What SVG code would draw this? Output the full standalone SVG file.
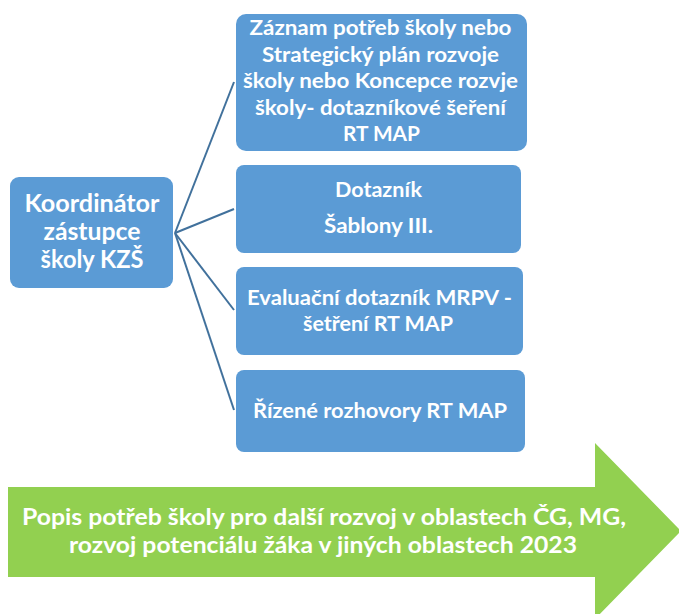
<svg xmlns="http://www.w3.org/2000/svg" width="679" height="614" viewBox="0 0 679 614">
<style>
.box{fill:#5B9BD5;}
.t{fill:#FFFFFF;font-family:Lato,"Liberation Sans",sans-serif;font-weight:bold;text-anchor:middle;}
.s19{font-size:20px;}
.s24{font-size:25px;}
.s22{font-size:23px;}
.con{stroke:#41719C;stroke-width:2;fill:none;}
</style>
<rect width="679" height="614" fill="#FFFFFF"/>
<g id="connectors">
<line class="con" x1="175" y1="233" x2="234" y2="82"/>
<line class="con" x1="175" y1="233" x2="234" y2="209"/>
<line class="con" x1="175" y1="233" x2="234" y2="310"/>
<line class="con" x1="175" y1="233" x2="234" y2="410"/>
</g>
<g id="koordinator">
<rect class="box" x="10" y="177" width="163" height="111" rx="9"/>
<text class="t s24" x="92" y="212" textLength="135" lengthAdjust="spacingAndGlyphs">Koordinátor</text>
<text class="t s24" x="92" y="240" textLength="97" lengthAdjust="spacingAndGlyphs">zástupce</text>
<text class="t s24" x="92" y="268" textLength="103" lengthAdjust="spacingAndGlyphs">školy KZŠ</text>
</g>
<g id="zaznam">
<rect class="box" x="236" y="14" width="291" height="137" rx="10"/>
<text class="t s19" x="380.5" y="35" textLength="262" lengthAdjust="spacingAndGlyphs">Záznam potřeb školy nebo</text>
<text class="t s19" x="380.5" y="61.5" textLength="237" lengthAdjust="spacingAndGlyphs">Strategický plán rozvoje</text>
<text class="t s19" x="380.5" y="88" textLength="275" lengthAdjust="spacingAndGlyphs">školy nebo Koncepce rozvje</text>
<text class="t s19" x="380.5" y="114.5" textLength="251" lengthAdjust="spacingAndGlyphs">školy- dotazníkové šeření</text>
<text class="t s19" x="381.5" y="141" textLength="77" lengthAdjust="spacingAndGlyphs">RT MAP</text>
</g>
<g id="dotaznik">
<rect class="box" x="236" y="165" width="285" height="88" rx="8"/>
<text class="t s19" x="378.5" y="197" textLength="87" lengthAdjust="spacingAndGlyphs">Dotazník</text>
<text class="t s19" x="378.5" y="233" textLength="109" lengthAdjust="spacingAndGlyphs">Šablony III.</text>
</g>
<g id="evaluacni">
<rect class="box" x="236" y="267" width="287" height="88" rx="8"/>
<text class="t s19" x="379.5" y="305" textLength="265" lengthAdjust="spacingAndGlyphs">Evaluační dotazník MRPV -</text>
<text class="t s19" x="378" y="331" textLength="150" lengthAdjust="spacingAndGlyphs">šetření RT MAP</text>
</g>
<g id="rizene">
<rect class="box" x="236" y="370" width="289" height="82" rx="8"/>
<text class="t s19" x="380" y="418" textLength="254" lengthAdjust="spacingAndGlyphs">Řízené rozhovory RT MAP</text>
</g>
<g id="popis">
<polygon points="8,487 595,487 595,443 681,531 595,619 595,577 8,577" fill="#92D050"/>
<text class="t s22" x="324" y="525" textLength="604" lengthAdjust="spacingAndGlyphs">Popis potřeb školy pro další rozvoj v oblastech ČG, MG,</text>
<text class="t s22" x="323" y="553" textLength="508" lengthAdjust="spacingAndGlyphs">rozvoj potenciálu žáka v jiných oblastech 2023</text>
</g>
</svg>
